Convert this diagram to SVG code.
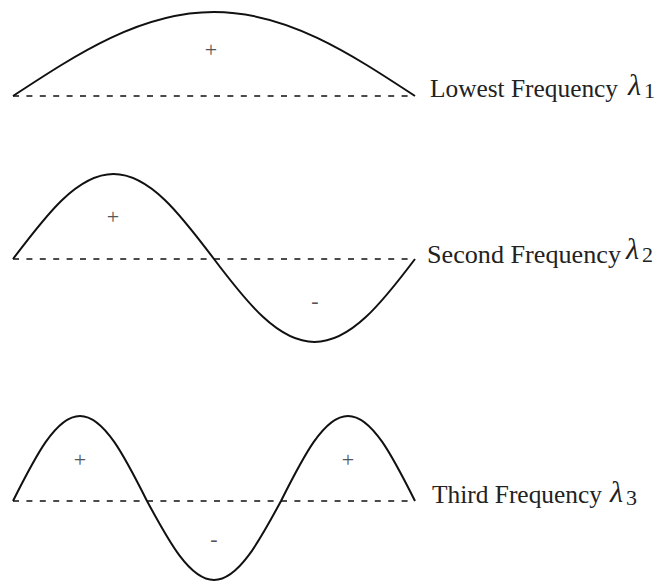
<svg xmlns="http://www.w3.org/2000/svg" width="663" height="583" viewBox="0 0 663 583">
<style>
.wave{fill:none;stroke:#111;stroke-width:2;stroke-linejoin:round}
.axis{fill:none;stroke:#111;stroke-width:1.6;stroke-dasharray:6 7.4}
.lbl{font-family:"Liberation Serif","DejaVu Serif",serif;font-size:25px;fill:#222}
.lam{font-family:"Liberation Serif","DejaVu Serif",serif;font-size:30px;font-style:italic;fill:#222}
.sub{font-family:"Liberation Serif","DejaVu Serif",serif;font-size:22px;fill:#222}
.sign{font-family:"Liberation Serif","DejaVu Serif",serif;font-size:22px;fill:#555;text-anchor:middle}
</style>
<rect width="663" height="583" fill="#fff"/>
<g id="connectors">
<line class="axis" x1="13" y1="96" x2="415" y2="96"/>
<line class="axis" x1="13" y1="259" x2="415" y2="259"/>
<line class="axis" x1="13" y1="501" x2="415" y2="501"/>
</g>
<g id="wave1">
<path class="wave" d="M13,96 C78.5,53 141.3,12 214,12 C286.7,12 349.5,53 415,96"/>
<text class="sign" x="211" y="57">+</text>
<text class="lbl" x="430" y="97" textLength="188" lengthAdjust="spacingAndGlyphs">Lowest Frequency</text>
<text class="lam" x="628" y="95">λ</text>
<text class="sub" x="644" y="98">1</text>
</g>
<g id="wave2">
<path class="wave" d="M13,259 C45.8,215.5 77.1,174 113.5,174 C149.9,174 181.2,215.5 214,259 C246.8,302.5 278.1,342 314.5,342 C350.9,342 382.2,302.5 415,259"/>
<text class="sign" x="113" y="224">+</text>
<text class="sign" x="315" y="308">-</text>
<text class="lbl" x="427" y="263" textLength="194" lengthAdjust="spacingAndGlyphs">Second Frequency</text>
<text class="lam" x="626" y="259">λ</text>
<text class="sub" x="642" y="262">2</text>
</g>
<g id="wave3">
<path class="wave" d="M13,501 C34.85,457.5 55.75,416 80,416 C104.25,416 125.15,457.5 147,501 C168.85,541.5 189.75,580 214,580 C238.25,580 259.15,541.5 281,501 C302.85,457.5 323.75,416 348,416 C372.25,416 393.15,457.5 415,501"/>
<text class="sign" x="80" y="467">+</text>
<text class="sign" x="348" y="467">+</text>
<text class="sign" x="214" y="546">-</text>
<text class="lbl" x="432" y="503" textLength="170" lengthAdjust="spacingAndGlyphs">Third Frequency</text>
<text class="lam" x="610" y="502">λ</text>
<text class="sub" x="626" y="505">3</text>
</g>
</svg>
